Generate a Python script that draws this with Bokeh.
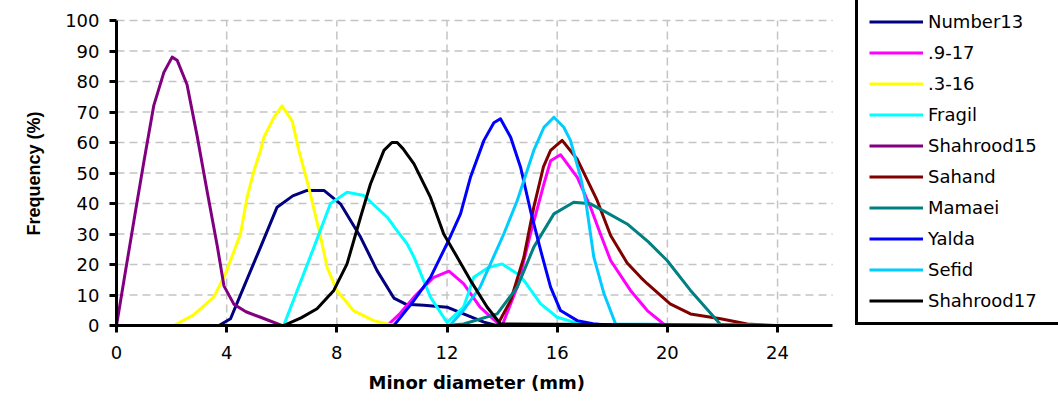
from bokeh.plotting import figure
from bokeh.models import Range1d, FixedTicker, Legend, LegendItem, Title
from bokeh.embed import file_html
from bokeh.resources import INLINE

# ---- data ----
number13_x = [0, 3.72, 4.14, 4.62, 5.23, 5.83, 6.4, 6.92, 7.53, 8.13, 8.86, 9.46, 10.07, 10.5, 11.16, 12.0, 12.6, 13.34, 13.8, 24]
number13_y = [0, 0, 2.2, 12.6, 25.7, 38.8, 42.5, 44.3, 44.3, 39.9, 29, 18, 9.0, 7.0, 6.6, 6.0, 3.8, 1.1, 0, 0]

s917_x = [0, 9.83, 10.3, 10.8, 11.52, 12.07, 12.6, 13.2, 13.8, 14.0, 14.55, 15.03, 15.52, 15.76, 16.12, 16.73, 17.21, 17.57, 17.94, 18.66, 19.27, 19.93, 24]
s917_y = [0, 0, 4, 9.3, 15.8, 17.8, 13.7, 6, 1.1, 0, 12.6, 30, 46.5, 54, 56, 48.6, 38.8, 30, 21.3, 11.5, 4.9, 0, 0]

s316_x = [0, 2.08, 2.8, 3.53, 3.96, 4.5, 4.74, 4.99, 5.23, 5.35, 5.7, 6.01, 6.38, 6.62, 6.98, 7.41, 7.65, 8.0, 8.6, 9.34, 9.83, 10.2, 24]
s316_y = [0, 0, 3.5, 9.3, 17, 30, 42, 50.8, 57.4, 61.7, 68, 72, 67, 57.4, 45.3, 29, 19, 11.5, 4.9, 1.6, 0.5, 0, 0]

fragil_x = [0, 6.07, 6.56, 7.17, 7.77, 8.37, 8.98, 9.83, 10.19, 10.55, 10.8, 11.4, 12.0, 12.6, 12.97, 13.5, 14.0, 14.55, 14.79, 15.4, 16.0, 16.6, 17.2, 24]
fragil_y = [0, 0, 11.5, 25.7, 40, 43.7, 42.6, 35.5, 31, 26.8, 22.4, 9.3, 1.0, 6, 15.8, 19, 20.2, 17, 14.8, 7.1, 2.7, 1.1, 0, 0]

shahrood15_x = [0, 0.33, 0.7, 1.0, 1.35, 1.72, 2.02, 2.2, 2.56, 2.93, 3.29, 3.66, 3.9, 4.26, 4.7, 5.23, 6.0, 24]
shahrood15_y = [0, 18, 38, 54, 72, 83, 88, 87, 79, 62, 44, 26, 13, 7, 4.5, 2.7, 0, 0]

sahand_x = [0, 13.82, 14.31, 14.79, 15.15, 15.5, 15.76, 16.18, 16.73, 17.45, 17.94, 18.54, 19.03, 19.27, 20.1, 20.84, 21.93, 22.9, 23.8, 24]
sahand_y = [0, 0, 8.2, 22.4, 38.8, 52, 57.4, 60.7, 54.5, 41, 29.5, 20.5, 15.8, 13.7, 7.1, 3.8, 2.2, 0.5, 0, 0]

mamaei_x = [0, 12.0, 12.6, 13.82, 14.55, 15.15, 15.88, 16.6, 17.21, 17.8, 18.54, 19.3, 19.99, 20.84, 21.93, 24]
mamaei_y = [0, 0, 0.5, 3.8, 12.6, 25.7, 36.6, 40.4, 39.9, 37, 33.3, 27.5, 21.3, 11.5, 0.3, 0]

yalda_x = [0, 10.07, 10.8, 11.4, 12.0, 12.49, 12.85, 13.34, 13.7, 13.94, 14.31, 14.67, 15.03, 15.4, 15.76, 16.12, 16.73, 17.3, 18.0, 24]
yalda_y = [0, 0, 8.2, 15.8, 26.8, 36.6, 48.6, 60.7, 66.5, 67.8, 61.7, 51.9, 37.7, 24.6, 12.6, 4.9, 1.6, 0.6, 0, 0]

sefid_x = [0, 12.1, 12.6, 13.2, 14.06, 14.55, 15.15, 15.52, 15.88, 16.24, 16.48, 16.85, 17.05, 17.33, 17.7, 18.12, 24]
sefid_y = [0, 0, 5, 12.6, 30, 41, 57.4, 65, 68.3, 65, 60.7, 48.6, 40, 22.4, 10.4, 0.5, 0]

shahrood17_x = [0, 6.07, 6.7, 7.28, 7.89, 8.37, 8.86, 9.22, 9.71, 10.0, 10.19, 10.4, 10.8, 11.4, 11.88, 12.37, 12.85, 13.46, 13.94, 24]
shahrood17_y = [0, 0, 2.5, 5.5, 11.5, 20.2, 35.5, 46.4, 57.4, 60, 60, 58, 53, 42, 30, 22.4, 14.8, 6, 0.5, 0]

series_names = ["Number13", ".9-17", ".3-16", "Fragil", "Shahrood15", "Sahand", "Mamaei", "Yalda", "Sefid", "Shahrood17"]
series_colors = ["#000080", "#FF00FF", "#FFFF00", "#00FFFF", "#800080", "#800000", "#008080", "#0000FF", "#00CCFF", "#000000"]
series_x = [number13_x, s917_x, s316_x, fragil_x, shahrood15_x, sahand_x, mamaei_x, yalda_x, sefid_x, shahrood17_x]
series_y = [number13_y, s917_y, s316_y, fragil_y, shahrood15_y, sahand_y, mamaei_y, yalda_y, sefid_y, shahrood17_y]

x_ticks = [0, 4, 8, 12, 16, 20, 24]
y_ticks = [0, 10, 20, 30, 40, 50, 60, 70, 80, 90, 100]
x_axis_span = (0, 26)
y_axis_span = (0, 100)
x_title = "Minor diameter (mm)"
y_title = "Frequency (%)"

FONT = "DejaVu Sans"

# frame spans the whole right part so the legend (partly cut at the right edge) can sit in it
p = figure(width=1058, height=403, x_range=Range1d(0, 34.2), y_range=Range1d(0, 106.56),
           output_backend="svg", toolbar_location=None,
           min_border_left=116, min_border_right=0, min_border_top=0, min_border_bottom=78)
p.outline_line_color = None
p.background_fill_color = "white"
p.xgrid.visible = False
p.ygrid.visible = False

# dashed grid limited to the axes' extent
gx = [t for t in x_ticks if t > 0]
gy = [t for t in y_ticks if t > 0]
p.segment(x0=gx, y0=[y_axis_span[0]] * len(gx), x1=gx, y1=[y_axis_span[1]] * len(gx),
          line_color="#C4C4C4", line_dash="8 5", line_width=1.5)
p.segment(x0=[x_axis_span[0]] * len(gy), y0=gy, x1=[x_axis_span[1]] * len(gy), y1=gy,
          line_color="#C4C4C4", line_dash="8 5", line_width=1.5)

# axes
p.xaxis.ticker = FixedTicker(ticks=x_ticks)
p.yaxis.ticker = FixedTicker(ticks=y_ticks)
p.xaxis.bounds = x_axis_span
p.yaxis.bounds = y_axis_span
for ax in (p.xaxis[0], p.yaxis[0]):
    ax.axis_line_width = 3
    ax.axis_line_color = "black"
    ax.major_tick_line_width = 3
    ax.major_tick_line_color = "black"
    ax.major_tick_in = 0
    ax.major_tick_out = 7
    ax.minor_tick_line_color = None
    ax.major_label_text_font = FONT
    ax.major_label_text_font_size = "18px"
    ax.major_label_text_color = "black"
p.xaxis.major_label_standoff = 13
p.yaxis.major_label_standoff = 10

# axis titles, centred on the axes' own extent rather than on the (wider) frame
p.add_layout(Title(text=x_title, align="left", offset=252, text_font=FONT,
                   text_font_size="18px", text_font_style="bold", text_color="black",
                   standoff=16), "below")
p.add_layout(Title(text=y_title, align="left", offset=90, text_font="Liberation Sans",
                   text_font_size="18px", text_font_style="bold", text_color="black",
                   standoff=38), "left")

items = []
for name, col, xs, ys in zip(series_names, series_colors, series_x, series_y):
    r = p.line(xs, ys, line_color=col, line_width=3, line_join="round")
    items.append(LegendItem(label=name, renderers=[r]))

legend = Legend(items=items, location=(739, 0))
legend.border_line_color = "black"
legend.border_line_alpha = 1
legend.border_line_width = 3
legend.background_fill_color = "white"
legend.background_fill_alpha = 1
legend.label_text_font = FONT
legend.label_text_font_size = "18px"
legend.label_text_color = "black"
legend.glyph_width = 54
legend.glyph_height = 21
legend.label_height = 21
legend.label_width = 135
legend.label_standoff = 5
legend.spacing = 10
legend.padding = 11
legend.margin = 0
p.add_layout(legend)

open("out.html", "w").write(file_html(p, INLINE))
